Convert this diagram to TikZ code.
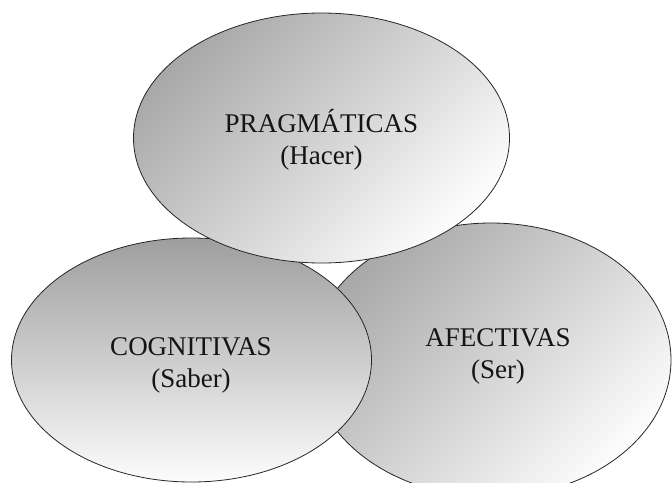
\documentclass[tikz,border=0pt]{standalone}
\usepackage{fontspec}
\setmainfont{Liberation Serif}
\usetikzlibrary{shapes.geometric}
\begin{document}
\begin{tikzpicture}[x=1pt,y=-1pt,
  blob/.style={ellipse, draw=black!85, line width=0.8pt, inner sep=0pt},
  diag/.style={top color=black!34, bottom color=black!1, shading angle=45},
  vert/.style={top color=black!38, bottom color=black!1},
  lbl/.style={align=center, text=black!92, font=\fontsize{27}{32}\selectfont, inner sep=0pt}]
\useasboundingbox (0,0) rectangle (672,482);
% right ellipse (back)
\node[blob, diag, minimum width=360pt, minimum height=274pt] (afe) at (491,360) {};
% left ellipse
\node[blob, vert, minimum width=360pt, minimum height=244pt] (cog) at (191.5,360) {};
% top ellipse (front)
\node[blob, diag, minimum width=376pt, minimum height=250pt] (pra) at (321.5,138) {};
\node[lbl] (tpra) at (321.5,140) {PRAGMÁTICAS\\(Hacer)};
\node[lbl] (tcog) at (191,365) {COGNITIVAS\\(Saber)};
\node[lbl] (tafe) at (498,356) {AFECTIVAS\\(Ser)};
\end{tikzpicture}
\end{document}
